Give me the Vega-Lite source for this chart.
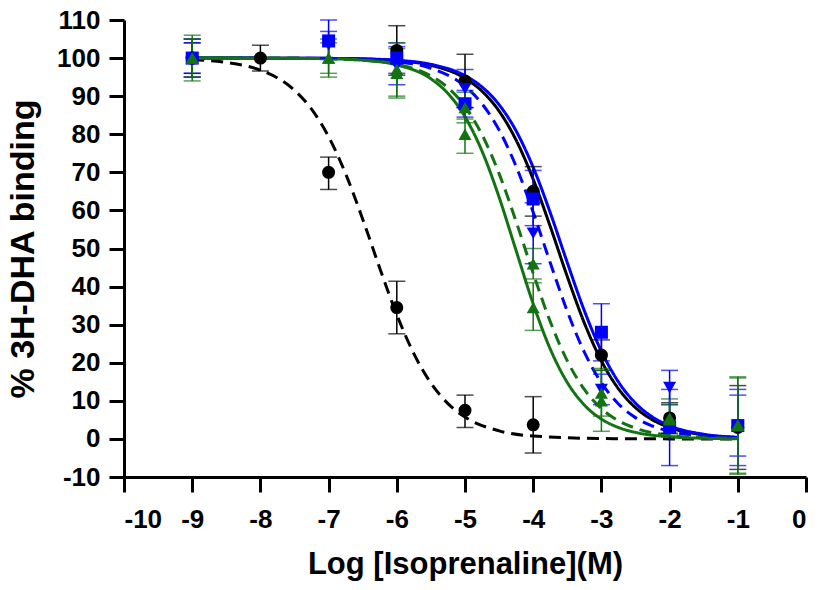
{
  "$schema": "https://vega.github.io/schema/vega-lite/v6.json",
  "width": 682,
  "height": 457,
  "autosize": "none",
  "padding": {"left": 124, "top": 20, "right": 13, "bottom": 113},
  "background": "white",
  "config": {
    "view": {"stroke": null},
    "font": "Liberation Sans",
    "axis": {
      "grid": false,
      "domainColor": "black",
      "domainWidth": 3,
      "tickColor": "black",
      "tickWidth": 3,
      "tickSize": 15,
      "labelFont": "Liberation Sans",
      "labelFontWeight": "bold",
      "labelFontSize": 26,
      "labelColor": "black",
      "labelOverlap": false,
      "labelSeparation": 0,
      "titleFont": "Liberation Sans",
      "titleFontWeight": "bold",
      "titleColor": "black"
    }
  },
  "datasets": {
    "curves": [
      {"s":"A","x":-9,"y":99.59},{"s":"A","x":-8.5,"y":98.85},{"s":"A","x":-8,"y":96.83},{"s":"A","x":-7.75,"y":94.79},{"s":"A","x":-7.5,"y":91.55},{"s":"A","x":-7.25,"y":86.59},{"s":"A","x":-7,"y":79.37},{"s":"A","x":-6.75,"y":69.61},{"s":"A","x":-6.5,"y":57.71},{"s":"A","x":-6.25,"y":44.84},{"s":"A","x":-6,"y":32.62},{"s":"A","x":-5.75,"y":22.38},{"s":"A","x":-5.5,"y":14.66},{"s":"A","x":-5.25,"y":9.28},{"s":"A","x":-5,"y":5.75},{"s":"A","x":-4.5,"y":2.12},{"s":"A","x":-4,"y":0.76},{"s":"A","x":-3,"y":0.1},{"s":"A","x":-2,"y":0.01},{"s":"A","x":-1,"y":0},
      {"s":"B","x":-9,"y":100},{"s":"B","x":-8,"y":99.99},{"s":"B","x":-7,"y":99.92},{"s":"B","x":-6.5,"y":99.77},{"s":"B","x":-6,"y":99.33},{"s":"B","x":-5.5,"y":98.09},{"s":"B","x":-5,"y":94.69},{"s":"B","x":-4.75,"y":91.3},{"s":"B","x":-4.5,"y":86.07},{"s":"B","x":-4.25,"y":78.44},{"s":"B","x":-4,"y":68.18},{"s":"B","x":-3.75,"y":55.79},{"s":"B","x":-3.5,"y":42.63},{"s":"B","x":-3.25,"y":30.44},{"s":"B","x":-3,"y":20.49},{"s":"B","x":-2.75,"y":13.17},{"s":"B","x":-2.5,"y":8.2},{"s":"B","x":-2.25,"y":5},{"s":"B","x":-2,"y":3},{"s":"B","x":-1.5,"y":1.06},{"s":"B","x":-1,"y":0.37},
      {"s":"C","x":-9,"y":100},{"s":"C","x":-8,"y":99.99},{"s":"C","x":-7,"y":99.93},{"s":"C","x":-6.5,"y":99.8},{"s":"C","x":-6,"y":99.42},{"s":"C","x":-5.5,"y":98.35},{"s":"C","x":-5,"y":95.39},{"s":"C","x":-4.75,"y":92.41},{"s":"C","x":-4.5,"y":87.76},{"s":"C","x":-4.25,"y":80.85},{"s":"C","x":-4,"y":71.3},{"s":"C","x":-3.75,"y":59.41},{"s":"C","x":-3.5,"y":46.29},{"s":"C","x":-3.25,"y":33.66},{"s":"C","x":-3,"y":23.01},{"s":"C","x":-2.75,"y":14.96},{"s":"C","x":-2.5,"y":9.39},{"s":"C","x":-2.25,"y":5.75},{"s":"C","x":-2,"y":3.47},{"s":"C","x":-1.5,"y":1.23},{"s":"C","x":-1,"y":0.43},
      {"s":"D","x":-9,"y":100},{"s":"D","x":-8,"y":99.99},{"s":"D","x":-7,"y":99.89},{"s":"D","x":-6.5,"y":99.68},{"s":"D","x":-6,"y":99.07},{"s":"D","x":-5.5,"y":97.33},{"s":"D","x":-5,"y":92.59},{"s":"D","x":-4.75,"y":87.99},{"s":"D","x":-4.5,"y":81.1},{"s":"D","x":-4.25,"y":71.52},{"s":"D","x":-4,"y":59.52},{"s":"D","x":-3.75,"y":46.26},{"s":"D","x":-3.5,"y":33.51},{"s":"D","x":-3.25,"y":22.78},{"s":"D","x":-3,"y":14.73},{"s":"D","x":-2.75,"y":9.18},{"s":"D","x":-2.5,"y":5.59},{"s":"D","x":-2.25,"y":3.35},{"s":"D","x":-2,"y":1.99},{"s":"D","x":-1.5,"y":0.69},{"s":"D","x":-1,"y":0.24},
      {"s":"E","x":-9,"y":100},{"s":"E","x":-8,"y":99.98},{"s":"E","x":-7,"y":99.82},{"s":"E","x":-6.5,"y":99.43},{"s":"E","x":-6,"y":98.21},{"s":"E","x":-5.5,"y":94.56},{"s":"E","x":-5.25,"y":90.72},{"s":"E","x":-5,"y":84.6},{"s":"E","x":-4.75,"y":75.55},{"s":"E","x":-4.5,"y":63.47},{"s":"E","x":-4.25,"y":49.42},{"s":"E","x":-4,"y":35.47},{"s":"E","x":-3.75,"y":23.61},{"s":"E","x":-3.5,"y":14.81},{"s":"E","x":-3.25,"y":8.9},{"s":"E","x":-3,"y":5.21},{"s":"E","x":-2.75,"y":3},{"s":"E","x":-2.5,"y":1.71},{"s":"E","x":-2,"y":0.55},{"s":"E","x":-1.5,"y":0.17},{"s":"E","x":-1,"y":0.05},
      {"s":"F","x":-9,"y":100},{"s":"F","x":-8,"y":99.98},{"s":"F","x":-7,"y":99.82},{"s":"F","x":-6.5,"y":99.45},{"s":"F","x":-6,"y":98.39},{"s":"F","x":-5.5,"y":95.34},{"s":"F","x":-5.25,"y":92.21},{"s":"F","x":-5,"y":87.27},{"s":"F","x":-4.75,"y":79.87},{"s":"F","x":-4.5,"y":69.66},{"s":"F","x":-4.25,"y":57.07},{"s":"F","x":-4,"y":43.47},{"s":"F","x":-3.75,"y":30.8},{"s":"F","x":-3.5,"y":20.49},{"s":"F","x":-3.25,"y":12.98},{"s":"F","x":-3,"y":7.94},{"s":"F","x":-2.75,"y":4.76},{"s":"F","x":-2.5,"y":2.81},{"s":"F","x":-2,"y":0.96},{"s":"F","x":-1.5,"y":0.32},{"s":"F","x":-1,"y":0.11}
    ],
    "points": [
      {"s":"A","x":-9,"y":100,"lo":96,"hi":104},{"s":"A","x":-8,"y":100,"lo":96.6,"hi":103.4},{"s":"A","x":-7,"y":70,"lo":65.5,"hi":74},{"s":"A","x":-6,"y":34.5,"lo":27.6,"hi":41.4},{"s":"A","x":-5,"y":7.5,"lo":3,"hi":11.5},{"s":"A","x":-4,"y":3.7,"lo":-3.7,"hi":11.1},
      {"s":"B","x":-9,"y":100,"lo":95,"hi":105},{"s":"B","x":-6,"y":102,"lo":95.5,"hi":108.5},{"s":"B","x":-5,"y":94,"lo":87,"hi":101},{"s":"B","x":-4,"y":65,"lo":58.5,"hi":71.5},{"s":"B","x":-3,"y":22,"lo":18,"hi":26},{"s":"B","x":-2,"y":5.5,"lo":1.5,"hi":9.5},{"s":"B","x":-1,"y":3,"lo":-8,"hi":14},
      {"s":"C","x":-9,"y":100,"lo":95,"hi":105},{"s":"C","x":-7,"y":104.5,"lo":100,"hi":110},{"s":"C","x":-6,"y":100,"lo":96,"hi":104},{"s":"C","x":-5,"y":88,"lo":84.5,"hi":91.5},{"s":"C","x":-4,"y":63,"lo":56,"hi":70.5},{"s":"C","x":-3,"y":28,"lo":20.5,"hi":35.5},{"s":"C","x":-2,"y":3,"lo":-7,"hi":13},{"s":"C","x":-1,"y":3.5,"lo":-4.5,"hi":11.5},
      {"s":"D","x":-9,"y":100,"lo":96,"hi":104},{"s":"D","x":-7,"y":103.5,"lo":100,"hi":107},{"s":"D","x":-6,"y":98,"lo":93,"hi":103},{"s":"D","x":-5,"y":92,"lo":87,"hi":97},{"s":"D","x":-4,"y":54,"lo":46,"hi":62},{"s":"D","x":-3,"y":13,"lo":9,"hi":17},{"s":"D","x":-2,"y":13.5,"lo":9,"hi":18},{"s":"D","x":-1,"y":3,"lo":-7,"hi":13},
      {"s":"E","x":-9,"y":100,"lo":94,"hi":106},{"s":"E","x":-7,"y":100,"lo":95,"hi":105},{"s":"E","x":-6,"y":96,"lo":89.5,"hi":102.5},{"s":"E","x":-5,"y":80,"lo":75,"hi":84},{"s":"E","x":-4,"y":34.5,"lo":28.5,"hi":41},{"s":"E","x":-3,"y":10,"lo":2,"hi":18.5},{"s":"E","x":-2,"y":5.5,"lo":0.5,"hi":10.5},{"s":"E","x":-1,"y":3.7,"lo":-9.3,"hi":16.3},
      {"s":"F","x":-9,"y":100,"lo":95,"hi":105},{"s":"F","x":-7,"y":100,"lo":96,"hi":104},{"s":"F","x":-6,"y":97,"lo":90,"hi":104},{"s":"F","x":-5,"y":87,"lo":83,"hi":91},{"s":"F","x":-4,"y":46,"lo":42,"hi":50},{"s":"F","x":-3,"y":12,"lo":6,"hi":18},{"s":"F","x":-2,"y":5,"lo":1,"hi":9},{"s":"F","x":-1,"y":3.5,"lo":-9,"hi":16}
    ]
  },
  "layer": [
    {
      "data": {"name": "curves"},
      "mark": {"type": "line", "interpolate": "monotone", "strokeWidth": 3},
      "encoding": {
        "x": {"field": "x", "type": "quantitative", "title": "Log [Isoprenaline](M)",
              "scale": {"domain": [-10, 0], "nice": false, "zero": false},
              "axis": {"values": [-10,-9,-8,-7,-6,-5,-4,-3,-2,-1,0], "labelExpr": "toString(datum.value)", "labelOverlap": false, "labelPadding": 14, "titlePadding": 17, "titleFontSize": 31}},
        "y": {"field": "y", "type": "quantitative", "title": "%  3H-DHA binding",
              "scale": {"domain": [-10, 110], "nice": false, "zero": false},
              "axis": {"values": [-10,0,10,20,30,40,50,60,70,80,90,100,110], "labelExpr": "toString(datum.value)", "labelOverlap": false, "labelSeparation": 0, "labelPadding": 9, "titlePadding": 16, "titleFontSize": 34}},
        "color": {"field": "s", "type": "nominal", "legend": null,
                  "scale": {"domain": ["A","B","C","D","E","F"], "range": ["#000000","#000000","#0000ff","#0000ff","#137313","#137313"]}},
        "strokeDash": {"field": "s", "type": "nominal", "legend": null,
                  "scale": {"domain": ["A","B","C","D","E","F"], "range": [[12,7],[1,0],[1,0],[12,7],[1,0],[12,7]]}}
      }
    },
    {
      "data": {"name": "points"},
      "mark": {"type": "errorbar", "ticks": {"size": 17}, "thickness": 1.5},
      "encoding": {
        "x": {"field": "x", "type": "quantitative", "title": "Log [Isoprenaline](M)",
              "axis": {"values": [-10,-9,-8,-7,-6,-5,-4,-3,-2,-1,0], "labelExpr": "toString(datum.value)", "labelOverlap": false, "labelPadding": 14, "titlePadding": 17, "titleFontSize": 31}},
        "y": {"field": "lo", "type": "quantitative", "title": "%  3H-DHA binding",
              "axis": {"values": [-10,0,10,20,30,40,50,60,70,80,90,100,110], "labelExpr": "toString(datum.value)", "labelOverlap": false, "labelSeparation": 0, "labelPadding": 9, "titlePadding": 16, "titleFontSize": 34}},
        "y2": {"field": "hi"},
        "color": {"field": "s", "type": "nominal", "legend": null}
      }
    },
    {
      "data": {"name": "points"},
      "mark": {"type": "point", "filled": true, "opacity": 1, "size": 170},
      "encoding": {
        "x": {"field": "x", "type": "quantitative", "title": "Log [Isoprenaline](M)",
              "axis": {"values": [-10,-9,-8,-7,-6,-5,-4,-3,-2,-1,0], "labelExpr": "toString(datum.value)", "labelOverlap": false, "labelPadding": 14, "titlePadding": 17, "titleFontSize": 31}},
        "y": {"field": "y", "type": "quantitative", "title": "%  3H-DHA binding",
              "axis": {"values": [-10,0,10,20,30,40,50,60,70,80,90,100,110], "labelExpr": "toString(datum.value)", "labelOverlap": false, "labelSeparation": 0, "labelPadding": 9, "titlePadding": 16, "titleFontSize": 34}},
        "color": {"field": "s", "type": "nominal", "legend": null},
        "shape": {"field": "s", "type": "nominal", "legend": null,
                  "scale": {"domain": ["A","B","C","D","E","F"], "range": ["circle","circle","square","triangle-down","triangle-up","triangle-up"]}}
      }
    }
  ]
}
